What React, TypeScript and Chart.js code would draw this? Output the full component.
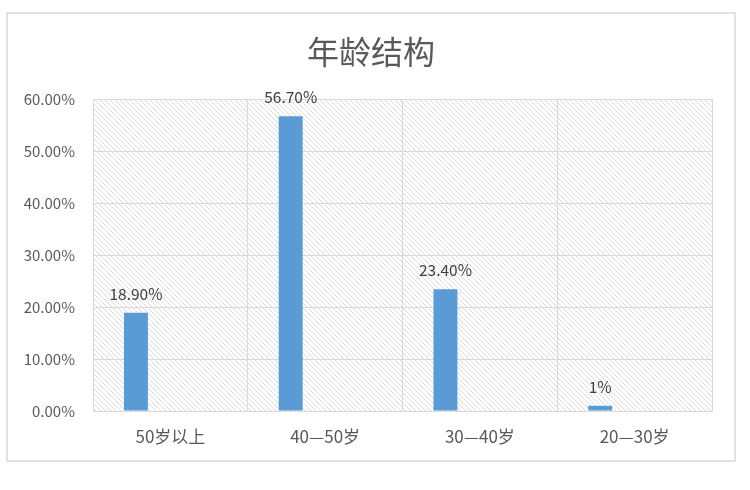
import React, { useEffect, useRef } from 'react'
import { Chart, registerables } from 'chart.js'

Chart.register(...registerables)

const chartTitle = '年龄结构'
const categories = ['50岁以上', '40—50岁', '30—40岁', '20—30岁']
const shares = [18.9, 56.7, 23.4, 1]
const shareLabels = ['18.90%', '56.70%', '23.40%', '1%']
const emptySeries = [null, null, null, null]
const yTicks = [0, 10, 20, 30, 40, 50, 60]

const FONT = '"Noto Sans CJK SC", "Noto Sans", sans-serif'

const makeHatch = (ctx: CanvasRenderingContext2D) => {
	const size = 5
	const tile = document.createElement('canvas')
	tile.width = size
	tile.height = size
	const t = tile.getContext('2d')!
	t.fillStyle = '#ffffff'
	t.fillRect(0, 0, size, size)
	t.strokeStyle = '#dadada'
	t.lineWidth = 1
	t.beginPath()
	t.moveTo(-1, -1)
	t.lineTo(size + 1, size + 1)
	t.moveTo(-1, size - 1)
	t.lineTo(1, size + 1)
	t.moveTo(size - 1, -1)
	t.lineTo(size + 1, 1)
	t.stroke()
	return ctx.createPattern(tile, 'repeat')
}

// card, border, hatched plot area and the title
const background = {
	id: 'background',
	beforeDraw(chart: any) {
		const { ctx, chartArea } = chart
		ctx.save()
		ctx.fillStyle = '#ffffff'
		ctx.fillRect(0, 0, chart.width, chart.height)
		ctx.strokeStyle = '#d9d9d9'
		ctx.lineWidth = 1.5
		ctx.strokeRect(7, 13, 728, 448)
		const hatch = makeHatch(ctx)
		if (hatch) {
			ctx.fillStyle = hatch
			ctx.fillRect(
				chartArea.left,
				chartArea.top,
				chartArea.right - chartArea.left,
				chartArea.bottom - chartArea.top
			)
		}
		ctx.font = `32px ${FONT}`
		ctx.fillStyle = '#595959'
		ctx.textAlign = 'center'
		ctx.textBaseline = 'middle'
		ctx.fillText(chartTitle, 371, 52)
		ctx.restore()
	},
}

const valueLabels = {
	id: 'valueLabels',
	afterDatasetsDraw(chart: any) {
		const { ctx } = chart
		const meta = chart.getDatasetMeta(0)
		ctx.save()
		ctx.font = `15.5px ${FONT}`
		ctx.fillStyle = '#404040'
		ctx.textAlign = 'center'
		ctx.textBaseline = 'middle'
		meta.data.forEach((bar: any, i: number) => {
			ctx.fillText(shareLabels[i], bar.x, bar.y - 19)
		})
		ctx.restore()
	},
}

const App: React.FC = () => {
	const chartRef = useRef<HTMLCanvasElement>(null)

	useEffect(() => {
		document.body.style.margin = '0'
		if (!chartRef.current) return
		const context = chartRef.current.getContext('2d')
		if (!context) return

		const chart = new Chart(context, {
			type: 'bar',
			data: {
				labels: categories,
				datasets: [
					{
						label: '占比',
						data: shares,
						backgroundColor: '#5B9BD5',
						categoryPercentage: 0.89,
						barPercentage: 0.348,
					},
					{
						label: '',
						data: emptySeries as any,
						backgroundColor: '#ED7D31',
						categoryPercentage: 0.89,
						barPercentage: 0.348,
					},
				],
			},
			options: {
				animation: false,
				responsive: true,
				maintainAspectRatio: false,
				layout: { padding: { left: 0, right: 38, top: 99, bottom: 0 } },
				plugins: {
					legend: { display: false },
					tooltip: { enabled: false },
				},
				scales: {
					x: {
						offset: true,
						grid: {
							offset: true,
							color: '#d9d9d9',
							drawTicks: false,
						},
						border: { color: '#d9d9d9' },
						ticks: {
							color: '#595959',
							font: { family: FONT, size: 17 },
							padding: 15,
						},
						afterFit: (scale: any) => {
							scale.height = 79
						},
					},
					y: {
						min: 0,
						max: 60,
						afterBuildTicks: (scale: any) => {
							scale.ticks = yTicks.map((v) => ({ value: v }))
						},
						grid: { color: '#d9d9d9', drawTicks: false },
						border: { color: '#d9d9d9' },
						ticks: {
							color: '#595959',
							font: { family: FONT, size: 15 },
							padding: 18,
							callback: (v: any) => Number(v).toFixed(2) + '%',
						},
						afterFit: (scale: any) => {
							scale.width = 93
						},
					},
				},
			},
			plugins: [background, valueLabels],
		})

		return () => {
			chart.destroy()
		}
	}, [])

	return (
		<div style={{ width: 750, height: 490, position: 'relative' }}>
			<canvas ref={chartRef} />
		</div>
	)
}

export default App
